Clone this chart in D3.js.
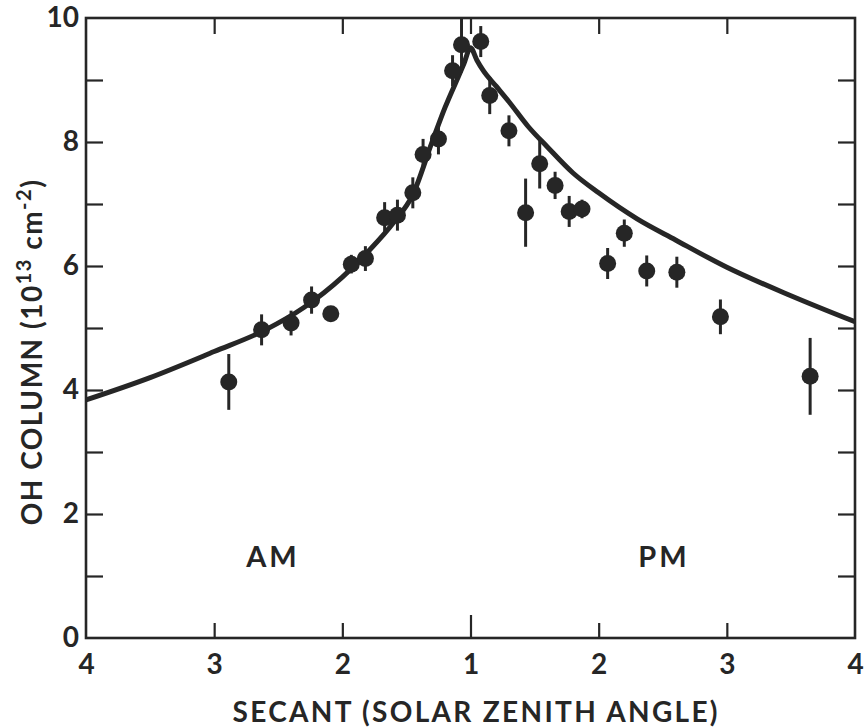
<!DOCTYPE html>
<html>
<head>
<meta charset="utf-8">
<script src="https://cdn.jsdelivr.net/npm/d3@7"></script>
<style>
  body { margin: 0; background: #fff; }
  svg { display: block; }
  text { font-family: Lato, "DejaVu Sans", sans-serif; font-weight: bold; fill: #262626; }
</style>
</head>
<body>
<div id="chart"></div>
<script>
// measured OH columns, morning side (secant, value, error)
var amSec = [2.886, 2.63, 2.40, 2.24, 2.09, 1.93, 1.82, 1.67, 1.57, 1.45, 1.37, 1.25, 1.14, 1.07];
var amOH  = [4.13, 4.97, 5.08, 5.45, 5.23, 6.03, 6.12, 6.78, 6.82, 7.18, 7.80, 8.05, 9.15, 9.57];
var amErr = [0.45, 0.25, 0.20, 0.22, 0.12, 0.15, 0.20, 0.25, 0.25, 0.25, 0.25, 0.25, 0.25, 0.45];

// afternoon side
var pmSec = [1.08, 1.15, 1.30, 1.43, 1.54, 1.66, 1.77, 1.87, 2.07, 2.20, 2.375, 2.61, 2.95, 3.65];
var pmOH  = [9.62, 8.75, 8.18, 6.86, 7.65, 7.30, 6.88, 6.92, 6.04, 6.53, 5.92, 5.90, 5.18, 4.22];
var pmErr = [0.25, 0.30, 0.25, 0.55, 0.40, 0.22, 0.25, 0.15, 0.25, 0.22, 0.25, 0.25, 0.28, 0.62];

// model curve
var modelSec = [1.0, 1.05, 1.1, 1.2, 1.3, 1.45, 1.6, 1.8, 2.0, 2.3, 2.6, 3.0, 3.5, 4.0];
var modelAM  = [9.52, 9.27, 9.03, 8.55, 8.0, 7.15, 6.7, 6.23, 5.82, 5.33, 4.97, 4.62, 4.2, 3.84];
var modelPM  = [9.52, 9.32, 9.15, 8.9, 8.65, 8.25, 7.92, 7.5, 7.18, 6.76, 6.42, 5.98, 5.52, 5.10];

var xTicks = [-3, -2, -1, 0, 1, 2, 3];
var yTicks = [0, 1, 2, 3, 4, 5, 6, 7, 8, 9, 10];

var width = 865, height = 727;
var ink = "#262626";

var svg = d3.select("#chart").append("svg").attr("width", width).attr("height", height);

// AM secants are put to the left of 1, PM to the right
var x = d3.scaleLinear().domain([-3, 3]).range([86, 855]);
var y = d3.scaleLinear().domain([0, 10]).range([638, 18]);
function amX(s) { return x(-(s - 1)); }
function pmX(s) { return x(s - 1); }

// axes
var bottom = svg.append("g").attr("transform", "translate(0," + y(0) + ")")
  .call(d3.axisBottom(x).tickValues(xTicks).tickSizeInner(-15).tickSizeOuter(0).tickPadding(16)
    .tickFormat(function(d) { return Math.abs(d) + 1; }));
bottom.selectAll(".tick line").attr("y2", function(d) { return d === 0 ? -23 : (Math.abs(d) === 3 ? 0 : -15); });

var top = svg.append("g").attr("transform", "translate(0," + y(10) + ")")
  .call(d3.axisTop(x).tickValues([-2, -1, 0, 1, 2]).tickSizeInner(-16).tickSizeOuter(0).tickFormat(""));

var left = svg.append("g").attr("transform", "translate(" + x(-3) + ",0)")
  .call(d3.axisLeft(y).tickValues(yTicks).tickSizeInner(-17).tickSizeOuter(0).tickPadding(7)
    .tickFormat(function(d) { return d % 2 === 0 ? d : ""; }));
left.selectAll(".tick line").filter(function(d) { return d === 0 || d === 10; }).remove();

var right = svg.append("g").attr("transform", "translate(" + x(3) + ",0)")
  .call(d3.axisRight(y).tickValues(yTicks.slice(1, 10)).tickSizeInner(-17).tickSizeOuter(0).tickFormat(""));

svg.selectAll(".domain").remove();
svg.selectAll(".tick line").attr("stroke", ink).attr("stroke-width", 2.2);
svg.selectAll(".tick text").attr("font-size", 28).attr("fill", ink)
  .style("font-family", "Lato, sans-serif").style("font-weight", "bold");

// frame
svg.append("rect")
  .attr("x", x(-3)).attr("y", y(10))
  .attr("width", x(3) - x(-3)).attr("height", y(0) - y(10))
  .attr("fill", "none").attr("stroke", ink).attr("stroke-width", 2.6);

svg.append("clipPath").attr("id", "plotClip").append("rect")
  .attr("x", x(-3)).attr("y", y(10)).attr("width", x(3) - x(-3)).attr("height", y(0) - y(10));

var plot = svg.append("g").attr("clip-path", "url(#plotClip)");

// model line
var line = d3.line().curve(d3.curveMonotoneX);
var amLine = modelSec.map(function(s, i) { return [amX(s), y(modelAM[i])]; }).reverse();
var pmLine = modelSec.map(function(s, i) { return [pmX(s), y(modelPM[i])]; });
plot.append("path").attr("d", line(amLine.concat(pmLine.slice(1))))
  .attr("fill", "none").attr("stroke", ink).attr("stroke-width", 5).attr("stroke-linejoin", "round");

// data points
var points = amSec.map(function(s, i) { return {px: amX(s), v: amOH[i], e: amErr[i]}; })
  .concat(pmSec.map(function(s, i) { return {px: pmX(s), v: pmOH[i], e: pmErr[i]}; }));

plot.selectAll("line.err").data(points).enter().append("line")
  .attr("class", "err")
  .attr("x1", function(d) { return d.px; }).attr("x2", function(d) { return d.px; })
  .attr("y1", function(d) { return y(d.v - d.e); }).attr("y2", function(d) { return y(d.v + d.e); })
  .attr("stroke", ink).attr("stroke-width", 3);

plot.selectAll("circle").data(points).enter().append("circle")
  .attr("cx", function(d) { return d.px; }).attr("cy", function(d) { return y(d.v); })
  .attr("r", 8.5).attr("fill", ink);

// AM / PM labels
svg.append("text").attr("x", 273).attr("y", 567).attr("text-anchor", "middle")
  .attr("font-size", 29).attr("letter-spacing", 3).text("AM");
svg.append("text").attr("x", 664).attr("y", 567).attr("text-anchor", "middle")
  .attr("font-size", 29).attr("letter-spacing", 3).text("PM");

// axis titles
svg.append("text").attr("x", 475).attr("y", 722).attr("text-anchor", "middle")
  .attr("font-size", 28).attr("textLength", 485).attr("lengthAdjust", "spacing")
  .text("SECANT (SOLAR ZENITH ANGLE)");

var yTitle = svg.append("text").attr("transform", "translate(42,352) rotate(-90)")
  .attr("text-anchor", "middle").attr("font-size", 28).attr("letter-spacing", 1.5);
yTitle.append("tspan").text("OH COLUMN (10");
yTitle.append("tspan").attr("dy", -11).attr("font-size", 20).text("13");
yTitle.append("tspan").attr("dy", 11).text(" cm");
yTitle.append("tspan").attr("dy", -11).attr("font-size", 20).text("-2");
yTitle.append("tspan").attr("dy", 11).text(")");
</script>
</body>
</html>
